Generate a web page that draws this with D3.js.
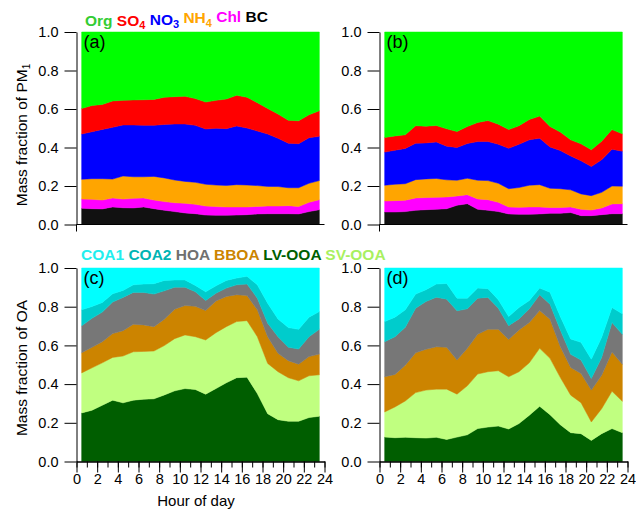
<!DOCTYPE html>
<html>
<head>
<meta charset="utf-8">
<script src="https://cdn.jsdelivr.net/npm/d3@7"></script>
<style>
body{margin:0;background:#fff}
svg text{font-family:"Liberation Sans",Arial,sans-serif}
</style>
</head>
<body>
<div id="chart"></div>
<script>
var w = 636
var h = 511

// hour of day (bin centres)
var hours = [0.5,1.5,2.5,3.5,4.5,5.5,6.5,7.5,8.5,9.5,10.5,11.5,12.5,13.5,14.5,15.5,16.5,17.5,18.5,19.5,20.5,21.5,22.5,23.5]
var xTicks = [0,1,2,3,4,5,6,7,8,9,10,11,12,13,14,15,16,17,18,19,20,21,22,23,24]
var xLabels = [0,2,4,6,8,10,12,14,16,18,20,22,24]
var yTicks = [0,0.2,0.4,0.6,0.8,1.0]

// (a) PM1 fractions
var aBC  = [0.084,0.082,0.081,0.091,0.087,0.086,0.091,0.082,0.074,0.067,0.060,0.056,0.049,0.048,0.048,0.049,0.051,0.055,0.056,0.056,0.056,0.055,0.067,0.077]
var aChl = [0.048,0.049,0.046,0.047,0.045,0.050,0.047,0.045,0.045,0.046,0.050,0.049,0.047,0.045,0.043,0.042,0.040,0.039,0.040,0.040,0.042,0.039,0.048,0.052]
var aNH4 = [0.103,0.107,0.111,0.098,0.120,0.112,0.110,0.123,0.123,0.118,0.114,0.114,0.113,0.112,0.112,0.116,0.114,0.108,0.102,0.101,0.093,0.097,0.099,0.099]
var aNO3 = [0.235,0.244,0.256,0.269,0.265,0.269,0.267,0.265,0.278,0.291,0.298,0.296,0.287,0.295,0.295,0.305,0.296,0.284,0.272,0.251,0.231,0.229,0.237,0.230]
var aSO4 = [0.133,0.136,0.130,0.137,0.128,0.130,0.133,0.135,0.141,0.142,0.144,0.139,0.140,0.145,0.154,0.159,0.160,0.147,0.133,0.126,0.119,0.119,0.119,0.133]
var aOrg = [0.397,0.382,0.376,0.358,0.355,0.353,0.352,0.350,0.339,0.336,0.334,0.346,0.364,0.355,0.348,0.329,0.339,0.367,0.397,0.426,0.459,0.461,0.430,0.409]

// (b) PM1 fractions
var bBC  = [0.065,0.065,0.067,0.074,0.077,0.079,0.082,0.100,0.108,0.079,0.074,0.067,0.055,0.053,0.053,0.055,0.058,0.058,0.062,0.046,0.046,0.051,0.056,0.056]
var bChl = [0.057,0.059,0.059,0.064,0.063,0.062,0.061,0.048,0.047,0.054,0.055,0.048,0.036,0.036,0.038,0.036,0.030,0.030,0.029,0.033,0.029,0.035,0.051,0.052]
var bNH4 = [0.082,0.085,0.086,0.095,0.097,0.098,0.089,0.082,0.085,0.097,0.099,0.099,0.095,0.103,0.113,0.116,0.100,0.098,0.089,0.080,0.075,0.081,0.093,0.091]
var bNO3 = [0.172,0.177,0.183,0.189,0.187,0.190,0.175,0.170,0.181,0.201,0.203,0.203,0.210,0.225,0.236,0.241,0.215,0.198,0.176,0.172,0.151,0.169,0.191,0.182]
var bSO4 = [0.076,0.074,0.071,0.091,0.087,0.085,0.090,0.083,0.088,0.099,0.109,0.104,0.097,0.096,0.106,0.115,0.106,0.096,0.084,0.088,0.087,0.097,0.102,0.090]
var bOrg = [0.548,0.540,0.534,0.487,0.489,0.486,0.503,0.517,0.491,0.470,0.460,0.479,0.507,0.487,0.454,0.437,0.491,0.520,0.560,0.581,0.612,0.567,0.507,0.529]

// (c) OA fractions
var cLV   = [0.251,0.265,0.291,0.317,0.303,0.317,0.322,0.324,0.344,0.365,0.377,0.372,0.348,0.377,0.407,0.433,0.436,0.351,0.247,0.216,0.208,0.208,0.227,0.234]
var cSV   = [0.207,0.219,0.219,0.221,0.242,0.250,0.247,0.247,0.255,0.270,0.277,0.273,0.280,0.289,0.290,0.290,0.292,0.294,0.260,0.248,0.225,0.209,0.216,0.214]
var cBBOA = [0.104,0.106,0.109,0.123,0.131,0.142,0.137,0.126,0.136,0.152,0.152,0.157,0.152,0.164,0.156,0.139,0.130,0.139,0.138,0.095,0.088,0.086,0.099,0.107]
var cHOA  = [0.139,0.150,0.153,0.163,0.172,0.165,0.168,0.168,0.147,0.114,0.095,0.075,0.052,0.040,0.043,0.051,0.059,0.060,0.070,0.086,0.069,0.078,0.103,0.128]
var cCOA2 = [0.083,0.061,0.050,0.043,0.036,0.039,0.043,0.054,0.054,0.037,0.037,0.033,0.045,0.038,0.040,0.035,0.040,0.069,0.103,0.092,0.102,0.102,0.101,0.092]
var cCOA1 = [0.216,0.199,0.178,0.133,0.116,0.087,0.083,0.081,0.064,0.062,0.062,0.090,0.123,0.092,0.064,0.052,0.043,0.087,0.182,0.263,0.308,0.317,0.254,0.225]

// (d) OA fractions
var dLV   = [0.126,0.123,0.125,0.123,0.121,0.125,0.114,0.126,0.138,0.170,0.178,0.183,0.168,0.196,0.239,0.285,0.242,0.190,0.149,0.144,0.109,0.144,0.170,0.149]
var dSV   = [0.130,0.159,0.188,0.233,0.248,0.249,0.260,0.222,0.253,0.282,0.286,0.286,0.270,0.268,0.271,0.300,0.291,0.244,0.194,0.160,0.095,0.129,0.193,0.162]
var dBBOA = [0.182,0.168,0.185,0.206,0.211,0.219,0.216,0.176,0.194,0.205,0.219,0.214,0.193,0.216,0.208,0.195,0.202,0.159,0.143,0.151,0.165,0.173,0.203,0.191]
var dHOA  = [0.181,0.195,0.196,0.230,0.247,0.256,0.249,0.255,0.204,0.187,0.165,0.109,0.071,0.057,0.071,0.082,0.078,0.087,0.068,0.069,0.060,0.092,0.152,0.155]
var dCOA2 = [0.104,0.101,0.090,0.073,0.061,0.068,0.081,0.065,0.055,0.052,0.045,0.044,0.047,0.059,0.043,0.034,0.062,0.069,0.079,0.092,0.100,0.104,0.078,0.106]
var dCOA1 = [0.277,0.254,0.216,0.135,0.112,0.083,0.080,0.156,0.156,0.104,0.107,0.164,0.251,0.204,0.168,0.104,0.125,0.251,0.367,0.384,0.471,0.358,0.204,0.237]

var pmKeys = ["BC","Chl","NH4","NO3","SO4","Org"]
var oaKeys = ["LV","SV","BBOA","HOA","COA2","COA1"]

var fills = {
	Org:"#00ff00", SO4:"#ff0000", NO3:"#0000ff", NH4:"#ffa500", Chl:"#ff00ff", BC:"#111111",
	COA1:"#00ffff", COA2:"#00cccc", HOA:"#777777", BBOA:"#cc8400", LV:"#005e00", SV:"#c0ff80"
}

var pmLegend = [
	{name:"Org",sub:"",color:"#33cc33"},
	{name:"SO",sub:"4",color:"#ff0000"},
	{name:"NO",sub:"3",color:"#0000ff"},
	{name:"NH",sub:"4",color:"#ffa500"},
	{name:"Chl",sub:"",color:"#ff00ff"},
	{name:"BC",sub:"",color:"#000000"}
]
var oaLegend = [
	{name:"COA1",sub:"",color:"#22eeee"},
	{name:"COA2",sub:"",color:"#00b4b4"},
	{name:"HOA",sub:"",color:"#707070"},
	{name:"BBOA",sub:"",color:"#cc8400"},
	{name:"LV-OOA",sub:"",color:"#006000"},
	{name:"SV-OOA",sub:"",color:"#a8f060"}
]

function makeRows(keys, arrays){
	return hours.map(function(hr,i){
		var row = {hour:hr}
		keys.forEach(function(k,j){ row[k] = arrays[j][i] })
		return row
	})
}

var svg = d3.select("#chart").append("svg").attr("width",w).attr("height",h)

var leftX = [76.5,324.5]
var rightX = [379.5,627.5]
var topY = [224.5,32]
var botY = [461.5,268]

drawPanel(makeRows(pmKeys,[aBC,aChl,aNH4,aNO3,aSO4,aOrg]),pmKeys,leftX,topY,"(a)",false)
drawPanel(makeRows(pmKeys,[bBC,bChl,bNH4,bNO3,bSO4,bOrg]),pmKeys,rightX,topY,"(b)",false)
drawPanel(makeRows(oaKeys,[cLV,cSV,cBBOA,cHOA,cCOA2,cCOA1]),oaKeys,leftX,botY,"(c)",true)
drawPanel(makeRows(oaKeys,[dLV,dSV,dBBOA,dHOA,dCOA2,dCOA1]),oaKeys,rightX,botY,"(d)",true)

drawLegend(pmLegend,85,26)
drawLegend(oaLegend,81,260)

// y titles
var t1 = svg.append("text").attr("transform","translate(27,135) rotate(-90)")
	.attr("text-anchor","middle").style("font-size","15.5px")
t1.append("tspan").text("Mass fraction of PM")
t1.append("tspan").text("1").style("font-size","10px").attr("dy","0.3em")

svg.append("text").attr("transform","translate(27,368) rotate(-90)")
	.attr("text-anchor","middle").style("font-size","15.5px")
	.text("Mass fraction of OA")

svg.append("text").attr("x",196).attr("y",506).attr("text-anchor","middle")
	.style("font-size","15px").text("Hour of day")

function drawPanel(rows,keys,xr,yr,label,bottom){
	var x = d3.scaleLinear().domain([0,24]).range(xr)
	var y = d3.scaleLinear().domain([0,1]).range(yr)
	var series = d3.stack().keys(keys)(rows)
	var area = d3.area()
		.x(function(d){return x(d.data.hour)})
		.y0(function(d){return y(d[0])})
		.y1(function(d){return y(d[1])})

	var g = svg.append("g")
	g.selectAll(".area")
	.data(series)
	.enter()
	.append("path")
	.attr("class","area")
	.attr("d",area)
	.attr("fill",function(d){return fills[d.key]})
	.attr("stroke",function(d){return fills[d.key]})
	.attr("stroke-width",0.5)

	var yAxis = d3.axisLeft(y).tickValues(yTicks).tickFormat(d3.format(".1f"))
		.tickSize(12).tickPadding(6).tickSizeOuter(0)
	var ya = g.append("g").attr("transform","translate("+xr[0]+",0)").call(yAxis)
	ya.selectAll("text").style("font-size","14.5px").attr("fill","#000")

	if(bottom){
		var minor = d3.axisBottom(x).tickValues(xTicks).tickFormat("").tickSize(6).tickSizeOuter(0)
		var major = d3.axisBottom(x).tickValues(xLabels).tickFormat(d3.format("d")).tickSize(11).tickPadding(1).tickSizeOuter(0)
		g.append("g").attr("transform","translate(0,"+yr[0]+")").call(minor)
		var xa = g.append("g").attr("transform","translate(0,"+yr[0]+")").call(major)
		xa.selectAll("text").style("font-size","14.5px").attr("fill","#000")
	}else{
		g.append("line").attr("x1",xr[0]).attr("x2",xr[1]).attr("y1",yr[0]).attr("y2",yr[0]).attr("stroke","#000")
		g.append("line").attr("x1",xr[0]).attr("x2",xr[0]).attr("y1",yr[0]).attr("y2",yr[0]+7).attr("stroke","#000")
	}

	g.append("text").attr("x",x(0)+7).attr("y",yr[1]+16)
		.style("font-size","18px").text(label)
}

function drawLegend(items,x0,y0){
	var t = svg.append("text").attr("x",x0).attr("y",y0)
		.style("font-size","15.5px").style("font-weight","bold")
	items.forEach(function(it,i){
		var s = t.append("tspan").attr("fill",it.color).text((i>0?" ":"")+it.name)
		if(i>0 && items[i-1].sub!=""){ s.attr("dy","-0.3em") }
		if(it.sub!=""){
			t.append("tspan").attr("fill",it.color).attr("dy","0.3em")
				.style("font-size","11px").text(it.sub)
		}
	})
}
</script>
</body>
</html>
